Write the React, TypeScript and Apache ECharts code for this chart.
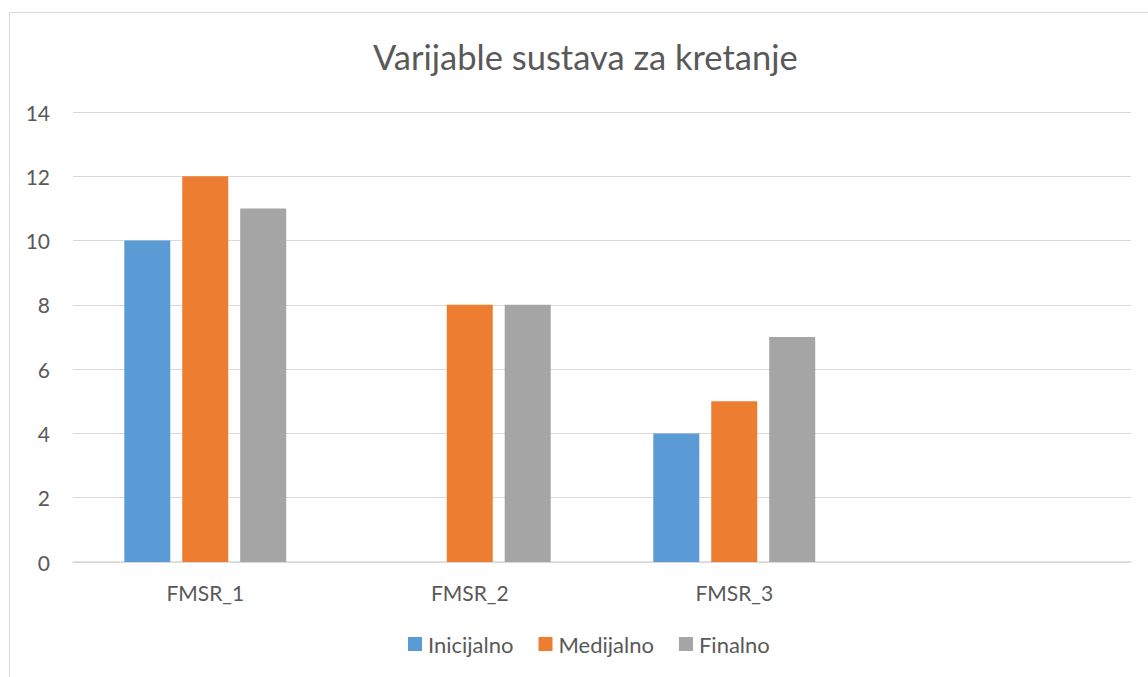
import React, { useEffect, useRef } from "react";
import * as echarts from "echarts";

const categories = ["FMSR_1", "FMSR_2", "FMSR_3", ""];
const seriesNames = ["Inicijalno", "Medijalno", "Finalno"];
const inicijalno = [10, null, 4, null];
const medijalno = [12, 8, 5, null];
const finalno = [11, 8, 7, null];
const colors = ["#5b9bd5", "#ed7d31", "#a5a5a5"];

export default function App() {
  const ref = useRef<HTMLDivElement>(null);
  useEffect(() => {
    const chart = echarts.init(ref.current!, null, { renderer: "svg" });
    const font = "Lato, 'Open Sans', sans-serif";
    const data = [inicijalno, medijalno, finalno];
    chart.setOption({
      animation: false,
      backgroundColor: "#ffffff",
      textStyle: { fontFamily: font },
      title: {
        text: "Varijable sustava za kretanje",
        left: 368,
        top: 34,
        textStyle: { fontFamily: font, fontSize: 34.5, fontWeight: "normal", color: "#595959" },
      },
      graphic: [
        {
          type: "rect",
          shape: { x: 9.5, y: 12.5, width: 1160, height: 700 },
          style: { fill: "none", stroke: "#d9d9d9", lineWidth: 1 },
          silent: true,
        },
      ],
      legend: {
        bottom: 17,
        left: 403,
        itemWidth: 14,
        itemHeight: 14,
        itemGap: 25,
        icon: "rect",
        data: seriesNames,
        textStyle: { fontFamily: font, fontSize: 22, color: "#595959", padding: [0, 0, 0, 1] },
      },
      grid: { left: 73, right: 17, top: 112, bottom: 115, containLabel: false },
      xAxis: {
        type: "category",
        data: categories,
        axisLine: { lineStyle: { color: "#d9d9d9", width: 1.5 } },
        axisTick: { show: false },
        axisLabel: { fontFamily: font, fontSize: 21, color: "#595959", margin: 20 },
      },
      yAxis: {
        type: "value",
        min: 0,
        max: 14,
        interval: 2,
        axisLine: { show: false },
        axisTick: { show: false },
        splitLine: { lineStyle: { color: "#d9d9d9", width: 1.2 } },
        axisLabel: { fontFamily: font, fontSize: 21, color: "#595959", margin: 23 },
      },
      series: seriesNames.map((name, i) => ({
        name,
        type: "bar",
        data: data[i],
        barWidth: 46,
        barGap: "26%",
        itemStyle: { color: colors[i] },
      })),
    });
    return () => chart.dispose();
  }, []);
  return (
    <div
      ref={ref}
      style={{ position: "absolute", left: 0, top: 0, width: 1148, height: 677 }}
    />
  );
}
